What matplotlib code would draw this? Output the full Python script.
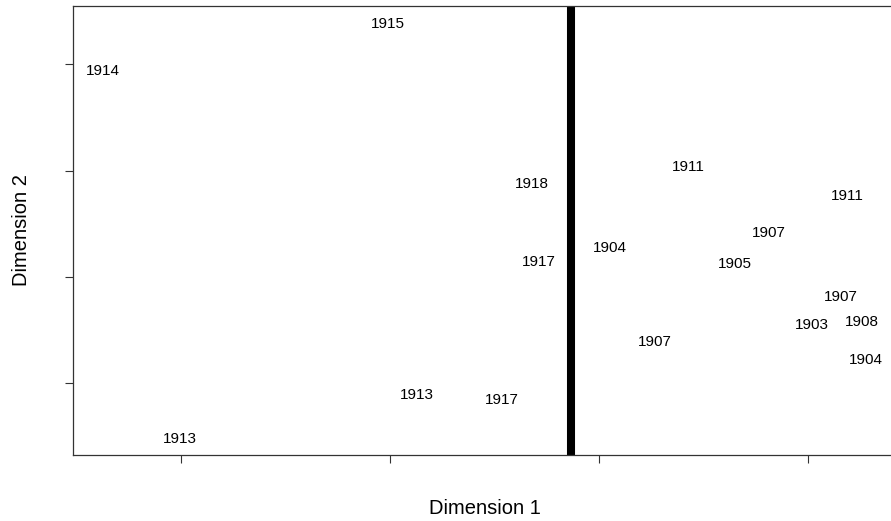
import numpy as np
import matplotlib
matplotlib.use("Agg")
import matplotlib.pyplot as plt

plt.rcParams['font.family'] = ['Liberation Sans', 'DejaVu Sans']

# point labels (years) and their coordinates on the two dimensions
years = ["1915", "1914", "1918", "1917", "1904", "1911", "1911", "1907", "1905",
         "1907", "1903", "1908", "1904", "1907", "1913", "1917", "1913"]
dim1 = [-1.010, -2.373, -0.321, -0.287, 0.053, 0.426, 1.187, 0.813, 0.651,
        1.158, 1.019, 1.258, 1.278, 0.268, -0.871, -0.464, -2.005]
dim2 = [2.393, 1.947, 0.884, 0.150, 0.282, 1.044, 0.771, 0.423, 0.132,
        -0.179, -0.437, -0.414, -0.771, -0.602, -1.100, -1.147, -1.509]

split_x = -0.134   # vertical separator
xticks = [-2, -1, 0, 1]
yticks = [-1, 0, 1, 2]

fig = plt.figure(figsize=(8.91, 5.21), dpi=100)
ax = fig.add_axes([73/891, 1-455/521, (897-73)/891, (455-6)/521])

for lab, x, y in zip(years, dim1, dim2):
    ax.text(x, y - 0.012, lab, ha='center', va='center', fontsize=11)

ax.axvline(split_x, color='black', lw=5.8)

ax.set_xlim(-2.517, 1.426)
ax.set_ylim(-1.674, 2.549)
ax.set_xticks(xticks)
ax.set_yticks(yticks)
ax.set_xticklabels([])
ax.set_yticklabels([])
ax.tick_params(direction='out', length=5.5, width=0.8, color='#333333')
for s in ax.spines.values():
    s.set_linewidth(0.9)
    s.set_color('#333333')

ax.set_xlabel("Dimension 1", fontsize=14.5, labelpad=23)
ax.set_ylabel("Dimension 2", fontsize=14.5, labelpad=21)

fig.savefig("out.png", dpi=100)
